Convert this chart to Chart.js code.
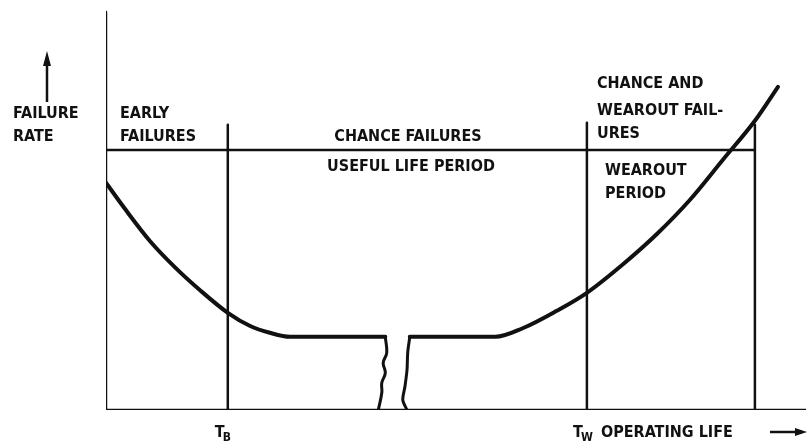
<!DOCTYPE html>
<html>
<head>
<meta charset="utf-8">
<title>Failure rate vs operating life</title>
<script src="https://cdn.jsdelivr.net/npm/chart.js@4.4.1/dist/chart.umd.min.js"></script>
<style>
  html, body { margin: 0; padding: 0; background: #fff; }
  #wrap { width: 807px; height: 442px; position: relative; }
</style>
</head>
<body>
<div id="wrap"><canvas id="chart"></canvas></div>
<script>
// operating life (x) vs failure rate (y), arbitrary units 0..100

// early failures -> flat useful life, up to the break
const earlyX = [0, 2.7, 6.3, 9.9, 13.4, 17.4, 20.6, 23.4, 26.3, 39.9];
const earlyY = [56.8, 50.3, 42.2, 35.6, 30, 24.3, 21, 19.3, 18.3, 18.3];

// the two wavy "break" strokes in the time axis
const breakLX = [39.9, 40.1, 39.6, 39.9, 39.4, 39.4, 38.9];
const breakLY = [18.3, 14.3, 11.8, 9.3, 6.8, 4.3, 0];
const breakRX = [43.0, 42.4, 42.7, 43.0, 43.1, 43.4];
const breakRY = [0, 2.5, 5.8, 10, 14.3, 18.3];

// flat useful life again, then wearout rise
const wearX = [43.4, 55.6, 59.6, 64.4, 68.7, 73.9, 78.7, 83.4, 88.1, 92.7, 96];
const wearY = [18.3, 18.3, 20.5, 24.8, 29.3, 36.5, 44, 52.5, 62.5, 72.3, 80.8];

// vertical period boundaries: y axis, T_B, T_W, end of wearout box
const periodX = [0, 17.4, 68.7, 92.7];
const periodTop = [99.5, 71.3, 71.8, 71.3];
const headerY = 65;      // horizontal line across the period boxes
const axisEndX = 100;    // time axis runs to the right edge

const ink = '#111';

function pts(xs, ys) {
  return xs.map((x, i) => ({ x: x, y: ys[i] }));
}

function stroke(data, width, tension, mono) {
  return {
    data: data,
    showLine: true,
    borderColor: ink,
    borderWidth: width,
    pointRadius: 0,
    tension: tension || 0,
    cubicInterpolationMode: mono ? 'monotone' : 'default',
    borderCapStyle: 'round',
    borderJoinStyle: 'round'
  };
}

const datasets = [];
periodX.forEach((x, i) => {
  datasets.push(stroke([{ x: x, y: 0 }, { x: x, y: periodTop[i] }], 2.5));
});
datasets.push(stroke([{ x: 0, y: headerY }, { x: periodX[3], y: headerY }], 2.5));
datasets.push(stroke([{ x: 0, y: 0 }, { x: axisEndX, y: 0 }], 2.5));
datasets.push(stroke(pts(earlyX, earlyY), 4, 0.4, true));
datasets.push(stroke(pts(breakLX, breakLY), 3, 0.4));
datasets.push(stroke(pts(breakRX, breakRY), 3, 0.3));
datasets.push(stroke(pts(wearX, wearY), 4, 0.4, true));

// labels, positioned in pixels (left / baseline)
const labels = [
  { t: 'FAILURE', x: 13, y: 118 },
  { t: 'RATE', x: 13, y: 141 },
  { t: 'EARLY', x: 120, y: 118 },
  { t: 'FAILURES', x: 120, y: 141 },
  { t: 'CHANCE FAILURES', x: 408, y: 141, a: 'center' },
  { t: 'USEFUL LIFE PERIOD', x: 411, y: 171, a: 'center' },
  { t: 'CHANCE AND', x: 597, y: 88 },
  { t: 'WEAROUT FAIL-', x: 597, y: 115 },
  { t: 'URES', x: 597, y: 138 },
  { t: 'WEAROUT', x: 605, y: 175 },
  { t: 'PERIOD', x: 605, y: 198 },
  { t: 'OPERATING LIFE', x: 601, y: 437 }
];

const textPlugin = {
  id: 'diagramText',
  afterDatasetsDraw(chart) {
    const ctx = chart.ctx;
    const xs = chart.scales.x;
    ctx.save();
    ctx.fillStyle = ink;
    ctx.strokeStyle = ink;
    ctx.textBaseline = 'alphabetic';
    ctx.font = 'bold 16px "DejaVu Sans Condensed", "DejaVu Sans", sans-serif';
    labels.forEach(l => {
      ctx.textAlign = l.a || 'left';
      ctx.fillText(l.t, l.x, l.y);
    });

    // T_B and T_W under their lines
    const sub = (main, s, px) => {
      ctx.textAlign = 'left';
      ctx.font = 'bold 16px "DejaVu Sans Condensed", "DejaVu Sans", sans-serif';
      ctx.fillText(main, px - 13, 437);
      ctx.font = 'bold 12px "DejaVu Sans Condensed", "DejaVu Sans", sans-serif';
      ctx.fillText(s, px - 5, 441);
    };
    sub('T', 'B', xs.getPixelForValue(periodX[1]));
    sub('T', 'W', xs.getPixelForValue(periodX[2]) - 1);

    // failure rate arrow
    ctx.lineWidth = 2.5;
    ctx.beginPath();
    ctx.moveTo(47, 102);
    ctx.lineTo(47, 62);
    ctx.stroke();
    ctx.beginPath();
    ctx.moveTo(47, 51);
    ctx.lineTo(51, 66);
    ctx.lineTo(43, 66);
    ctx.closePath();
    ctx.fill();

    // operating life arrow
    ctx.beginPath();
    ctx.moveTo(770, 432);
    ctx.lineTo(796, 432);
    ctx.stroke();
    ctx.beginPath();
    ctx.moveTo(807, 432);
    ctx.lineTo(795, 428);
    ctx.lineTo(795, 436);
    ctx.closePath();
    ctx.fill();
    ctx.restore();
  }
};

new Chart(document.getElementById('chart'), {
  type: 'scatter',
  data: { datasets: datasets },
  options: {
    responsive: true,
    maintainAspectRatio: false,
    animation: false,
    layout: { padding: { left: 106, right: 1, top: 10, bottom: 32 } },
    plugins: { legend: { display: false }, tooltip: { enabled: false } },
    scales: {
      x: { type: 'linear', min: 0, max: 100, display: false },
      y: { type: 'linear', min: 0, max: 100, display: false }
    }
  },
  plugins: [textPlugin]
});
</script>
</body>
</html>
